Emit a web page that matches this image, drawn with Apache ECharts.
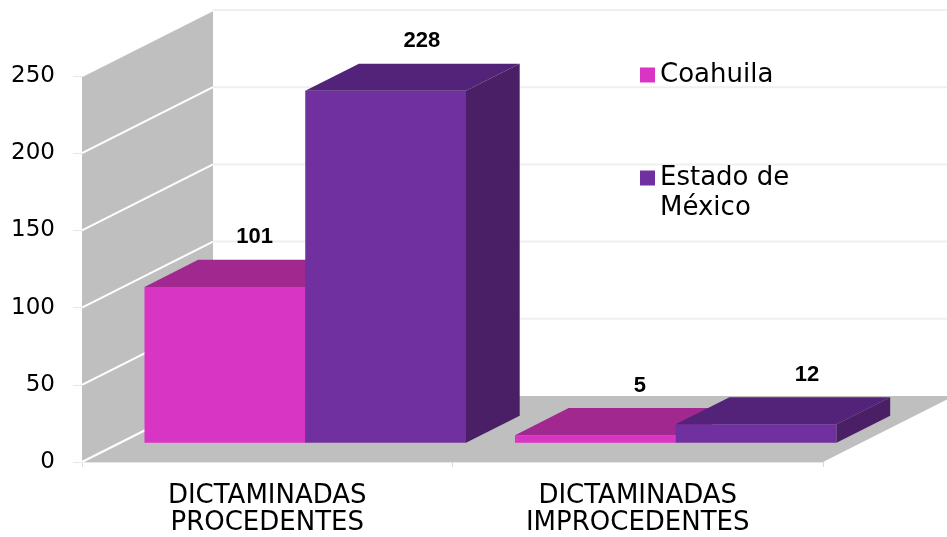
<!DOCTYPE html>
<html>
<head>
<meta charset="utf-8">
<script src="https://cdn.jsdelivr.net/npm/echarts@6/dist/echarts.min.js"></script>
<style>
  html, body { margin: 0; padding: 0; background: #fff; }
  #chart { width: 947px; height: 537px; }
</style>
</head>
<body>
<div id="chart"></div>
<script>
const categories = ['DICTAMINADAS\nPROCEDENTES', 'DICTAMINADAS\nIMPROCEDENTES']
const coahuila = [101, 5]
const mexico = [228, 12]
const yMax = 250
const yStep = 50

// profundidad del cuadro 3D (proyeccion oblicua, en px)
const DEPTH = [131, -66]
const BAR_FRONT = 0.29   // donde empieza la barra dentro de la profundidad
const BAR_DEPTH = 0.41   // grosor de la barra
const BAR_GAP = 24.5     // hueco a cada lado del grupo

const FONT = 'DejaVu Sans'

const chart = echarts.init(document.getElementById('chart'))

function shift(p, k) {
  return [p[0] + DEPTH[0] * k, p[1] + DEPTH[1] * k]
}

function renderFrame(params, api) {
  const bw = api.size([1, 0])[0]
  const c0 = api.coord([0, 0])
  const c1 = api.coord([categories.length - 1, 0])
  const x0 = c0[0] - bw / 2
  const x1 = c1[0] + bw / 2
  const y0 = c0[1]
  const yTop = api.coord([0, yMax])[1]
  const children = []
  // pared lateral
  children.push({
    type: 'polygon',
    shape: { points: [[x0, y0], [x0, yTop], shift([x0, yTop], 1), shift([x0, y0], 1)] },
    style: { fill: '#bfbfbf' }
  })
  // suelo
  children.push({
    type: 'polygon',
    shape: { points: [[x0, y0], [x1, y0], shift([x1, y0], 1), shift([x0, y0], 1)] },
    style: { fill: '#bfbfbf' }
  })
  for (let v = 0; v <= yMax; v += yStep) {
    const y = api.coord([0, v])[1]
    const a = [x0, y]
    const b = shift(a, 1)
    children.push({
      type: 'line',
      shape: { x1: a[0], y1: a[1], x2: b[0], y2: b[1] },
      style: { stroke: '#ffffff', lineWidth: 2 }
    })
    if (v > 0) {
      children.push({
        type: 'line',
        shape: { x1: b[0], y1: b[1], x2: shift([x1, y], 1)[0], y2: b[1] },
        style: { stroke: '#efefef', lineWidth: 2 }
      })
    }
  }
  return { type: 'group', children }
}

function renderBar(idx, colors) {
  return function (params, api) {
    const cat = api.value(0)
    const val = api.value(1)
    const bw = api.size([1, 0])[0]
    const w = (bw - 2 * BAR_GAP) / 2
    const base = api.coord([cat, 0])
    const top = api.coord([cat, val])
    const left = base[0] - bw / 2 + BAR_GAP + idx * w
    const fb = shift([left, base[1]], BAR_FRONT)
    const ft = shift([left, top[1]], BAR_FRONT)
    const d = [DEPTH[0] * BAR_DEPTH, DEPTH[1] * BAR_DEPTH]
    const midX = ft[0] + w / 2 + d[0] / 2
    return {
      type: 'group',
      children: [
        {
          type: 'polygon',
          shape: { points: [ft, [ft[0] + w, ft[1]], [fb[0] + w, fb[1]], fb] },
          style: { fill: colors[0] }
        },
        {
          type: 'polygon',
          shape: { points: [ft, [ft[0] + w, ft[1]], [ft[0] + w + d[0], ft[1] + d[1]], [ft[0] + d[0], ft[1] + d[1]]] },
          style: { fill: colors[1] }
        },
        {
          type: 'polygon',
          shape: { points: [[ft[0] + w, ft[1]], [fb[0] + w, fb[1]], [fb[0] + w + d[0], fb[1] + d[1]], [ft[0] + w + d[0], ft[1] + d[1]]] },
          style: { fill: colors[2] }
        },
        {
          type: 'text',
          style: {
            text: String(val),
            // la etiqueta se desplaza un poco a la derecha segun avanza (perspectiva)
            x: midX + 0.04 * (midX - 180),
            y: ft[1] + d[1] / 2 - 36,
            align: 'center',
            verticalAlign: 'middle',
            font: 'bold 22px "Liberation Sans"',
            fill: '#000'
          }
        }
      ]
    }
  }
}

const legendText = { fontFamily: FONT, fontSize: 26, color: '#000', lineHeight: 30 }

const option = {
  animation: false,
  grid: { left: 82, right: 124, top: 76, bottom: 75 },
  legend: [
    {
      data: ['Coahuila'], orient: 'vertical', left: 640, top: 60, padding: 0,
      icon: 'rect', itemWidth: 15, itemHeight: 15, selectedMode: false,
      textStyle: legendText
    },
    {
      // linea vacia arriba para que el icono quede a la altura de la primera linea
      data: ['Estado de México'], orient: 'vertical', left: 640, top: 133, padding: 0,
      icon: 'rect', itemWidth: 15, itemHeight: 15, selectedMode: false,
      formatter: () => ' \nEstado de\nMéxico',
      textStyle: legendText
    }
  ],
  xAxis: {
    type: 'category',
    data: categories,
    axisLine: { lineStyle: { color: '#e6e6e6', width: 1 } },
    axisTick: { show: true, length: 5, lineStyle: { color: '#d9d9d9' } },
    axisLabel: { fontFamily: FONT, fontSize: 26, color: '#000', lineHeight: 27, margin: 21 }
  },
  yAxis: {
    type: 'value',
    min: 0,
    max: yMax,
    interval: yStep,
    axisLine: { show: true, lineStyle: { color: '#dcdcdc' } },
    axisTick: { show: true, length: 9, lineStyle: { color: '#e6e6e6' } },
    splitLine: { show: false },
    axisLabel: { fontFamily: FONT, fontSize: 23, color: '#000', margin: 27 }
  },
  series: [
    {
      name: 'frame', type: 'custom', z: 1, silent: true,
      renderItem: renderFrame,
      data: [[0, 0]]
    },
    {
      name: 'Coahuila', type: 'custom', z: 2,
      itemStyle: { color: '#d935c5' },
      renderItem: renderBar(0, ['#d935c5', '#a0288f', '#8a2280']),
      data: coahuila.map((v, i) => [i, v])
    },
    {
      name: 'Estado de México', type: 'custom', z: 3,
      itemStyle: { color: '#7030a0' },
      renderItem: renderBar(1, ['#7030a0', '#53237a', '#4a1f66']),
      data: mexico.map((v, i) => [i, v])
    }
  ]
}

chart.setOption(option)
</script>
</body>
</html>
